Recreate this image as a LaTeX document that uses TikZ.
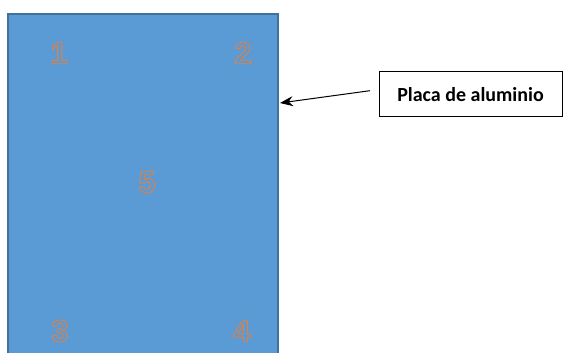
\documentclass[tikz,border=0pt]{standalone}
\usepackage{fontspec}
\setmainfont{Carlito}
\newfontfamily\numfont{Liberation Sans}
\usetikzlibrary{arrows.meta}
\definecolor{plate}{HTML}{5B9BD5}
\definecolor{plateborder}{HTML}{41719C}
\definecolor{numorange}{HTML}{ED7D31}
\newcommand{\outlinenum}[1]{\special{pdf:code q 1 Tr 0.8 w 0.929 0.490 0.192 RG}#1\special{pdf:code Q}}
\tikzset{
  numlabel/.style={font=\numfont\bfseries\fontsize{31}{31}\selectfont, inner sep=0pt, text=numorange},
  labelbox/.style={draw=black, line width=0.8pt, fill=white, minimum width=183pt, minimum height=45pt, inner sep=0pt, font=\bfseries\fontsize{20}{24}\selectfont},
  pointer/.style={draw=black, line width=1pt, -{Stealth[length=13pt,width=10pt]}}
}
\begin{document}
\begin{tikzpicture}[x=1pt,y=1pt]
\useasboundingbox (0,0) rectangle (563,353);
\begin{scope}
\clip (0,0) rectangle (563,353);
\draw[fill=plate, draw=plateborder, line width=1.6pt] (8,339) rectangle (278,-10);
\end{scope}
\node[numlabel] (n1) at (59,300) {\outlinenum{1}};
\node[numlabel] (n2) at (243,300) {\outlinenum{2}};
\node[numlabel] (n5) at (147,171) {\outlinenum{5}};
\node[numlabel] (n3) at (60,22) {\outlinenum{3}};
\node[numlabel] (n4) at (242,22) {\outlinenum{4}};
\node[labelbox] (lbl) at (470.5,258.8) {Placa de aluminio};
\coordinate (tip) at (280,250);
\draw[pointer] (370,262.3) -- (tip);
\end{tikzpicture}
\end{document}
